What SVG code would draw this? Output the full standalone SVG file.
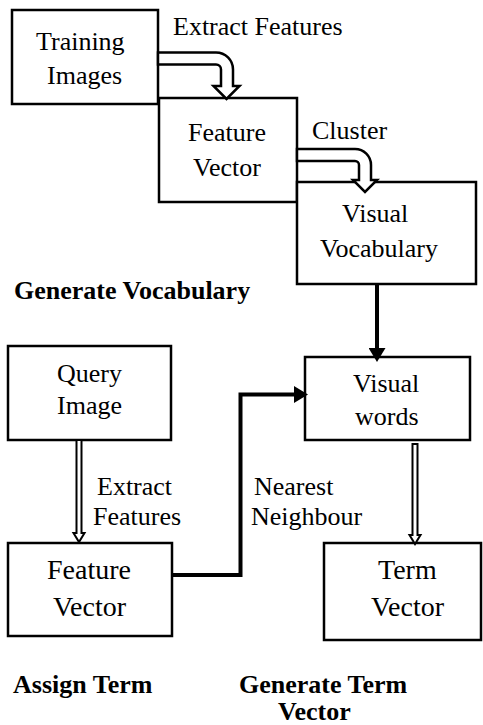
<svg xmlns="http://www.w3.org/2000/svg" width="483" height="725" viewBox="0 0 483 725">
<style>
.box{fill:#fff;stroke:#000;stroke-width:2.5}
.t{font-family:"Liberation Serif","Times New Roman",serif;font-size:26px;fill:#000}
.t28{font-size:28px}
.b{font-weight:bold}
.hollow{fill:#fff;stroke:#000;stroke-width:2.5;stroke-linejoin:miter}
.dbl{fill:#fff;stroke:#000;stroke-width:2}
.thick{fill:none;stroke:#000;stroke-width:4}
</style>
<defs>
<marker id="ah" markerUnits="userSpaceOnUse" markerWidth="14" markerHeight="17" refX="0" refY="8.5" orient="auto">
<path d="M0,0 L14,8.5 L0,17 Z" fill="#000"/>
</marker>
</defs>
<rect width="483" height="725" fill="#fff"/>

<g id="training-images">
<rect class="box" x="12" y="10" width="146" height="94"/>
<text class="t" x="36" y="50">Training</text>
<text class="t" x="47" y="84">Images</text>
</g>
<g id="feature-vector-top">
<rect class="box" x="159" y="98" width="138" height="104"/>
<text class="t" x="188" y="141">Feature</text>
<text class="t" x="193" y="176">Vector</text>
</g>
<g id="visual-vocabulary">
<rect class="box" x="297" y="182" width="179" height="102"/>
<text class="t" x="342" y="222">Visual</text>
<text class="t" x="320" y="257">Vocabulary</text>
</g>
<g id="query-image">
<rect class="box" x="8" y="346" width="163" height="94"/>
<text class="t" x="57" y="382">Query</text>
<text class="t" x="57" y="414">Image</text>
</g>
<g id="visual-words">
<rect class="box" x="305" y="357" width="165" height="83"/>
<text class="t" x="353" y="392">Visual</text>
<text class="t" x="355" y="425">words</text>
</g>
<g id="feature-vector-bottom">
<rect class="box" x="8" y="543" width="164" height="93"/>
<text class="t t28" x="47" y="579">Feature</text>
<text class="t t28" x="53" y="616">Vector</text>
</g>
<g id="term-vector">
<rect class="box" x="324" y="543" width="157" height="97"/>
<text class="t t28" x="378" y="579">Term</text>
<text class="t t28" x="371" y="616">Vector</text>
</g>

<g id="connectors">
<path class="hollow" d="M158,52.5 H216 A17,17 0 0 1 233,69.5 V86 H239.5 L226.5,99 L213.5,86 H221 V69.5 A5,5 0 0 0 216,64.5 H158 Z"/>
<path class="hollow" d="M297,149 H355 A16,16 0 0 1 371,165 V180 H377 L365,192 L353,180 H359 V165 A4,4 0 0 0 355,161 H297 Z"/>
<line class="thick" x1="377" y1="284" x2="377" y2="348" marker-end="url(#ah)"/>
<polyline class="thick" points="172,575 240.5,575 240.5,394.5 294,394.5" marker-end="url(#ah)"/>
<path class="dbl" d="M76.5,441 V533 H73.5 L79,542 L84.5,533 H81.5 V441"/>
<path class="dbl" d="M412.5,444 V535 H409.5 L415,544 L420.5,535 H417.5 V444 Z"/>
</g>

<g id="labels">
<text class="t" x="173" y="35">Extract Features</text>
<text class="t" x="312" y="138.5">Cluster</text>
<text class="t b" x="14" y="299">Generate Vocabulary</text>
<text class="t" x="97" y="495">Extract</text>
<text class="t" x="93" y="525">Features</text>
<text class="t" x="254" y="495">Nearest</text>
<text class="t" x="251" y="525">Neighbour</text>
<text class="t b" x="13" y="693">Assign Term</text>
<text class="t b" x="239" y="693">Generate Term</text>
<text class="t b" x="278" y="720">Vector</text>
</g>
</svg>
